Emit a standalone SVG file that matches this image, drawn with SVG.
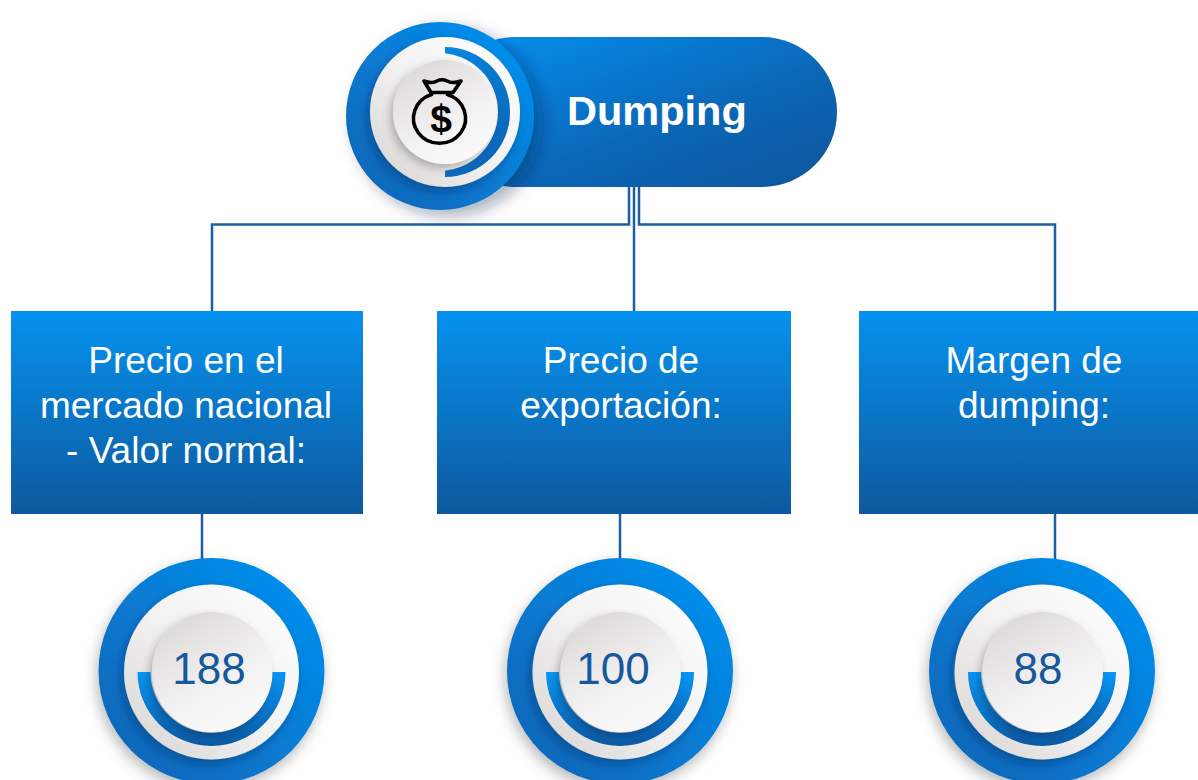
<svg xmlns="http://www.w3.org/2000/svg" xmlns:xlink="http://www.w3.org/1999/xlink" width="1198" height="780" viewBox="0 0 1198 780">
  <defs>
    <style>
      .conn { fill: none; stroke: #1c5ea4; stroke-width: 2.5; }
      .boxtxt { font-family: "Liberation Sans", Arial, sans-serif; font-size: 37px; fill: #ffffff; text-anchor: middle; }
      .num { font-family: "Liberation Sans", Arial, sans-serif; font-size: 44px; fill: #15589c; text-anchor: middle; }
      .title { font-family: "Liberation Sans", Arial, sans-serif; font-size: 41.5px; font-weight: bold; fill: #ffffff; }
      .icon { fill: none; stroke: #000000; stroke-width: 3.6; stroke-linejoin: round; stroke-linecap: round; }
    </style>
    <linearGradient id="gBox" x1="0" y1="0" x2="0" y2="1">
      <stop offset="0" stop-color="#0592ef"/>
      <stop offset="1" stop-color="#0e599e"/>
    </linearGradient>
    <linearGradient id="gPill" x1="0" y1="0" x2="1" y2="1">
      <stop offset="0" stop-color="#0492f2"/>
      <stop offset="0.6" stop-color="#0b66b6"/>
      <stop offset="1" stop-color="#0e569c"/>
    </linearGradient>
    <linearGradient id="gOuter" x1="1" y1="0" x2="0" y2="1">
      <stop offset="0" stop-color="#0494f4"/>
      <stop offset="1" stop-color="#0a62b2"/>
    </linearGradient>
    <linearGradient id="gWhite" x1="1" y1="0" x2="0" y2="1">
      <stop offset="0" stop-color="#ffffff"/>
      <stop offset="0.5" stop-color="#f3f2f2"/>
      <stop offset="1" stop-color="#d7d2d2"/>
    </linearGradient>
    <linearGradient id="gInner" x1="0.2" y1="0" x2="0.8" y2="1">
      <stop offset="0" stop-color="#dcd8d8"/>
      <stop offset="0.6" stop-color="#f3f2f2"/>
      <stop offset="1" stop-color="#fbfbfb"/>
    </linearGradient>
    <linearGradient id="gArcB" x1="0" y1="0" x2="0" y2="1">
      <stop offset="0" stop-color="#0795f4"/>
      <stop offset="1" stop-color="#0b58a3"/>
    </linearGradient>
    <linearGradient id="gArcH" x1="0" y1="0" x2="1" y2="1">
      <stop offset="0" stop-color="#0795f4"/>
      <stop offset="1" stop-color="#0b5fae"/>
    </linearGradient>
    <filter id="shOuter" x="-30%" y="-30%" width="160%" height="160%">
      <feDropShadow dx="-2" dy="6" stdDeviation="7" flood-color="#000000" flood-opacity="0.28"/>
    </filter>
    <filter id="shHead" x="-30%" y="-30%" width="160%" height="160%">
      <feDropShadow dx="8" dy="6" stdDeviation="8" flood-color="#001a40" flood-opacity="0.35"/>
    </filter>
    <filter id="shDisk" x="-30%" y="-30%" width="160%" height="160%">
      <feDropShadow dx="-3" dy="5" stdDeviation="5" flood-color="#00224a" flood-opacity="0.35"/>
    </filter>
    <filter id="shInner" x="-30%" y="-30%" width="160%" height="160%">
      <feDropShadow dx="-3" dy="4" stdDeviation="4" flood-color="#000000" flood-opacity="0.25"/>
    </filter>
    <clipPath id="clipRight">
      <rect x="445" y="30" width="100" height="170"/>
    </clipPath>
    <g id="dial">
      <circle cx="0" cy="0" r="113" fill="url(#gOuter)" filter="url(#shOuter)"/>
      <circle cx="0" cy="1" r="87.5" fill="url(#gWhite)" filter="url(#shDisk)"/>
      <path d="M-74,1 A74,74 0 0 0 74,1 L61,1 A61,61 0 0 1 -61,1 Z" fill="url(#gArcB)"/>
      <circle cx="0.5" cy="1" r="60" fill="url(#gInner)" filter="url(#shInner)"/>
    </g>
  </defs>

  <rect x="0" y="0" width="1198" height="780" fill="#ffffff"/>

  <g id="connectors">
    <path class="conn" d="M629,186 V224.5 H212 V312"/>
    <path class="conn" d="M634,186 V312"/>
    <path class="conn" d="M639,186 V224.5 H1055 V312"/>
    <path class="conn" d="M202,513 V560"/>
    <path class="conn" d="M620,513 V560"/>
    <path class="conn" d="M1055,513 V560"/>
  </g>

  <g id="header">
    <rect x="440" y="37" width="397" height="150" rx="75" ry="75" fill="url(#gPill)"/>
    <circle cx="440" cy="116" r="94" fill="url(#gOuter)" filter="url(#shHead)"/>
    <circle cx="445" cy="112" r="75" fill="url(#gWhite)" filter="url(#shDisk)"/>
    <path clip-path="url(#clipRight)" fill-rule="evenodd" fill="url(#gArcH)" d="M445,47 A65,65 0 1 1 445,177 A65,65 0 1 1 445,47 Z M439,53 A59,59 0 1 0 439,171 A59,59 0 1 0 439,53 Z"/>
    <circle cx="445" cy="112" r="52" fill="url(#gInner)" filter="url(#shInner)"/>
    <g id="icon">
      <path class="icon" d="M424,81 Q432,84 437,81 Q442,78.5 447,81 Q452,84 461,81 L453,92.5 L431,92.5 Z"/>
      <path class="icon" d="M431.5,94.5 A26,25 0 1 0 447.5,94.5"/>
      <text x="441" y="132" font-family="Liberation Sans, Arial, sans-serif" font-size="39" font-weight="bold" fill="#000000" text-anchor="middle">$</text>
    </g>
    <text class="title" x="567" y="125">Dumping</text>
  </g>

  <g id="box-valor-normal">
    <rect x="11" y="311" width="352" height="203" fill="url(#gBox)"/>
    <text class="boxtxt" x="186" y="372.7">Precio en el</text>
    <text class="boxtxt" x="186" y="417.7">mercado nacional</text>
    <text class="boxtxt" x="186" y="463">- Valor normal:</text>
  </g>

  <g id="box-exportacion">
    <rect x="437" y="311" width="354" height="203" fill="url(#gBox)"/>
    <text class="boxtxt" x="621" y="372.7">Precio de</text>
    <text class="boxtxt" x="621" y="417.7">exportación:</text>
  </g>

  <g id="box-margen">
    <rect x="859" y="311" width="354" height="203" fill="url(#gBox)"/>
    <text class="boxtxt" x="1034" y="372.7">Margen de</text>
    <text class="boxtxt" x="1034" y="417.7">dumping:</text>
  </g>

  <g id="dial-188">
    <use xlink:href="#dial" href="#dial" x="211.5" y="671"/>
    <text class="num" x="209" y="684">188</text>
  </g>

  <g id="dial-100">
    <use xlink:href="#dial" href="#dial" x="620" y="671"/>
    <text class="num" x="613" y="684">100</text>
  </g>

  <g id="dial-88">
    <use xlink:href="#dial" href="#dial" x="1042" y="671"/>
    <text class="num" x="1038" y="684">88</text>
  </g>
</svg>
